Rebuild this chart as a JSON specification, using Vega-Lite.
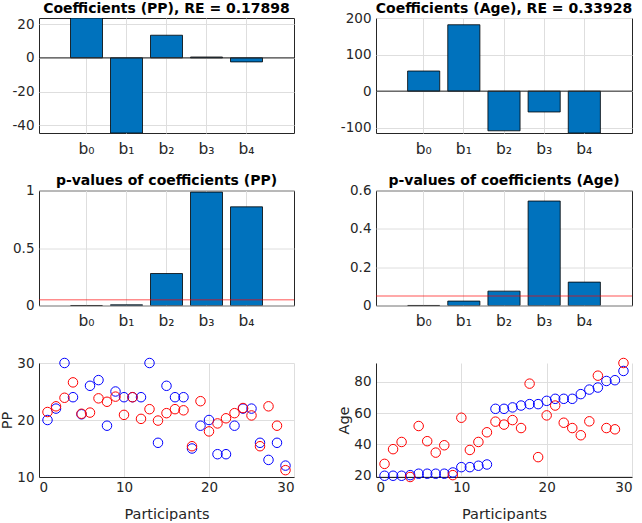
{
  "$schema": "https://vega.github.io/schema/vega-lite/v6.json",
  "padding": {"left": -1, "top": 1, "right": 0, "bottom": 0},
  "columns": 2,
  "bounds": "flush",
  "spacing": {"row": 57.5, "column": 82},
  "concat": [
    {
      "title": {"text": "Coefficients (PP), RE = 0.17898", "offset": 1.5},
      "width": 255, "height": 115,
      "data": {"values": [
        {"coef": "b₀", "value": 23.6},
        {"coef": "b₁", "value": -44.5},
        {"coef": "b₂", "value": 13.4},
        {"coef": "b₃", "value": 0.5},
        {"coef": "b₄", "value": -2.4}
      ]},
      "layer": [
        {
          "mark": {"type": "bar", "color": "#0072BD", "stroke": "#000000", "strokeWidth": 0.8, "clip": true},
          "encoding": {
            "x": {"field": "coef", "type": "nominal", "sort": null,
                  "scale": {"paddingInner": 0.2, "paddingOuter": 0.7875},
                  "axis": {"title": null, "labelAngle": 0, "grid": true, "bandPosition": 0.5, "labelFontSize": 15.5, "labelPadding": 8}},
            "y": {"field": "value", "type": "quantitative",
                  "scale": {"domain": [-44.5, 23.6], "nice": false, "zero": false},
                  "axis": {"title": null, "values": [-40, -20, 0, 20], "tickCount": 10, "grid": true, "labelExpr": "replace(datum.label, '−', '-')"}}
          }
        },
        {
          "data": {"values": [{"base": 0}]},
          "mark": {"type": "rule", "color": "#262626", "strokeWidth": 1},
          "encoding": {"y": {"field": "base", "type": "quantitative"}}
        }
      ]
    },
    {
      "title": {"text": "Coefficients (Age), RE = 0.33928", "offset": -4.5},
      "width": 256, "height": 115,
      "data": {"values": [
        {"coef": "b₀", "value": 55},
        {"coef": "b₁", "value": 181.5},
        {"coef": "b₂", "value": -108.5},
        {"coef": "b₃", "value": -57},
        {"coef": "b₄", "value": -114.5}
      ]},
      "layer": [
        {
          "mark": {"type": "bar", "color": "#0072BD", "stroke": "#000000", "strokeWidth": 0.8, "clip": true},
          "encoding": {
            "x": {"field": "coef", "type": "nominal", "sort": null,
                  "scale": {"paddingInner": 0.2, "paddingOuter": 0.7875},
                  "axis": {"title": null, "labelAngle": 0, "grid": true, "bandPosition": 0.5, "labelFontSize": 15.5, "labelPadding": 8}},
            "y": {"field": "value", "type": "quantitative",
                  "scale": {"domain": [-114.5, 200], "nice": false, "zero": false},
                  "axis": {"title": null, "values": [-100, 0, 100, 200], "tickCount": 10, "grid": true, "labelExpr": "replace(datum.label, '−', '-')"}}
          }
        },
        {
          "data": {"values": [{"base": 0}]},
          "mark": {"type": "rule", "color": "#262626", "strokeWidth": 1},
          "encoding": {"y": {"field": "base", "type": "quantitative"}}
        }
      ]
    },
    {
      "title": {"text": "p-values of coefficients (PP)", "offset": -4.5},
      "width": 255, "height": 115,
      "data": {"values": [
        {"coef": "b₀", "value": 0.0001},
        {"coef": "b₁", "value": 0.006},
        {"coef": "b₂", "value": 0.278},
        {"coef": "b₃", "value": 0.986},
        {"coef": "b₄", "value": 0.858}
      ]},
      "layer": [
        {
          "mark": {"type": "bar", "color": "#0072BD", "stroke": "#000000", "strokeWidth": 0.8, "clip": true},
          "encoding": {
            "x": {"field": "coef", "type": "nominal", "sort": null,
                  "scale": {"paddingInner": 0.2, "paddingOuter": 0.7875},
                  "axis": {"title": null, "labelAngle": 0, "grid": true, "bandPosition": 0.5, "labelFontSize": 15.5, "labelPadding": 8}},
            "y": {"field": "value", "type": "quantitative",
                  "scale": {"domain": [0, 1], "nice": false},
                  "axis": {"title": null, "values": [0, 0.5, 1], "tickCount": 10, "grid": true, "format": "~g"}}
          }
        },
        {
          "data": {"values": [{"threshold": 0.05}]},
          "mark": {"type": "rule", "color": "#ff0000", "opacity": 0.45, "strokeWidth": 1.5},
          "encoding": {"y": {"field": "threshold", "type": "quantitative"}}
        }
      ]
    },
    {
      "title": {"text": "p-values of coefficients (Age)", "offset": -4.5},
      "width": 256, "height": 115,
      "data": {"values": [
        {"coef": "b₀", "value": 0.0002},
        {"coef": "b₁", "value": 0.023},
        {"coef": "b₂", "value": 0.075},
        {"coef": "b₃", "value": 0.545},
        {"coef": "b₄", "value": 0.122}
      ]},
      "layer": [
        {
          "mark": {"type": "bar", "color": "#0072BD", "stroke": "#000000", "strokeWidth": 0.8, "clip": true},
          "encoding": {
            "x": {"field": "coef", "type": "nominal", "sort": null,
                  "scale": {"paddingInner": 0.2, "paddingOuter": 0.7875},
                  "axis": {"title": null, "labelAngle": 0, "grid": true, "bandPosition": 0.5, "labelFontSize": 15.5, "labelPadding": 8}},
            "y": {"field": "value", "type": "quantitative",
                  "scale": {"domain": [0, 0.6], "nice": false},
                  "axis": {"title": null, "values": [0, 0.2, 0.4, 0.6], "tickCount": 10, "grid": true, "format": "~g"}}
          }
        },
        {
          "data": {"values": [{"threshold": 0.05}]},
          "mark": {"type": "rule", "color": "#ff0000", "opacity": 0.45, "strokeWidth": 1.5},
          "encoding": {"y": {"field": "threshold", "type": "quantitative"}}
        }
      ]
    },
    {
      "width": 255, "height": 114,
      "view": {"stroke": null},
      "data": {"values": [
        {"participant": 1, "series": "actual", "value": 20},
        {"participant": 2, "series": "actual", "value": 22},
        {"participant": 3, "series": "actual", "value": 30},
        {"participant": 4, "series": "actual", "value": 24},
        {"participant": 5, "series": "actual", "value": 21},
        {"participant": 6, "series": "actual", "value": 26},
        {"participant": 7, "series": "actual", "value": 27},
        {"participant": 8, "series": "actual", "value": 19},
        {"participant": 9, "series": "actual", "value": 25},
        {"participant": 10, "series": "actual", "value": 24},
        {"participant": 11, "series": "actual", "value": 24},
        {"participant": 12, "series": "actual", "value": 24},
        {"participant": 13, "series": "actual", "value": 30},
        {"participant": 14, "series": "actual", "value": 16},
        {"participant": 15, "series": "actual", "value": 26},
        {"participant": 16, "series": "actual", "value": 24},
        {"participant": 17, "series": "actual", "value": 24},
        {"participant": 18, "series": "actual", "value": 15},
        {"participant": 19, "series": "actual", "value": 19},
        {"participant": 20, "series": "actual", "value": 20},
        {"participant": 21, "series": "actual", "value": 14},
        {"participant": 22, "series": "actual", "value": 14},
        {"participant": 23, "series": "actual", "value": 19},
        {"participant": 24, "series": "actual", "value": 22},
        {"participant": 25, "series": "actual", "value": 22},
        {"participant": 26, "series": "actual", "value": 16},
        {"participant": 27, "series": "actual", "value": 13},
        {"participant": 28, "series": "actual", "value": 16},
        {"participant": 29, "series": "actual", "value": 12},
        {"participant": 1, "series": "predicted", "value": 21.4},
        {"participant": 2, "series": "predicted", "value": 22.4},
        {"participant": 3, "series": "predicted", "value": 23.9},
        {"participant": 4, "series": "predicted", "value": 26.6},
        {"participant": 5, "series": "predicted", "value": 21.1},
        {"participant": 6, "series": "predicted", "value": 21.3},
        {"participant": 7, "series": "predicted", "value": 23.8},
        {"participant": 8, "series": "predicted", "value": 23.2},
        {"participant": 9, "series": "predicted", "value": 24.1},
        {"participant": 10, "series": "predicted", "value": 20.9},
        {"participant": 11, "series": "predicted", "value": 24.0},
        {"participant": 12, "series": "predicted", "value": 20.2},
        {"participant": 13, "series": "predicted", "value": 21.9},
        {"participant": 14, "series": "predicted", "value": 19.9},
        {"participant": 15, "series": "predicted", "value": 21.2},
        {"participant": 16, "series": "predicted", "value": 21.9},
        {"participant": 17, "series": "predicted", "value": 21.7},
        {"participant": 18, "series": "predicted", "value": 15.4},
        {"participant": 19, "series": "predicted", "value": 23.3},
        {"participant": 20, "series": "predicted", "value": 18.0},
        {"participant": 21, "series": "predicted", "value": 19.4},
        {"participant": 22, "series": "predicted", "value": 20.3},
        {"participant": 23, "series": "predicted", "value": 21.2},
        {"participant": 24, "series": "predicted", "value": 22.1},
        {"participant": 25, "series": "predicted", "value": 20.8},
        {"participant": 26, "series": "predicted", "value": 15.4},
        {"participant": 27, "series": "predicted", "value": 22.4},
        {"participant": 28, "series": "predicted", "value": 19.0},
        {"participant": 29, "series": "predicted", "value": 11.2}
      ]},
      "mark": {"type": "point", "shape": "circle", "filled": false, "size": 90, "strokeWidth": 1, "opacity": 1},
      "encoding": {
        "x": {"field": "participant", "type": "quantitative",
              "scale": {"domain": [0, 30], "nice": false},
              "axis": {"title": "Participants", "values": [0, 10, 20, 30], "tickCount": 10, "grid": true, "domain": true, "labelPadding": 3, "titlePadding": 14}},
        "y": {"field": "value", "type": "quantitative",
              "scale": {"domain": [10, 30], "nice": false, "zero": false},
              "axis": {"title": "PP", "values": [10, 20, 30], "tickCount": 10, "grid": true, "domain": true, "titlePadding": 2}},
        "color": {"field": "series", "type": "nominal",
                  "scale": {"domain": ["actual", "predicted"], "range": ["#0000ff", "#ff0000"]},
                  "legend": null}
      }
    },
    {
      "width": 256, "height": 114,
      "view": {"stroke": null},
      "data": {"values": [
        {"participant": 1, "series": "actual", "value": 20},
        {"participant": 2, "series": "actual", "value": 20},
        {"participant": 3, "series": "actual", "value": 20},
        {"participant": 4, "series": "actual", "value": 20.4},
        {"participant": 5, "series": "actual", "value": 21.3},
        {"participant": 6, "series": "actual", "value": 21.3},
        {"participant": 7, "series": "actual", "value": 21.3},
        {"participant": 8, "series": "actual", "value": 21.3},
        {"participant": 9, "series": "actual", "value": 22.1},
        {"participant": 10, "series": "actual", "value": 25.5},
        {"participant": 11, "series": "actual", "value": 25.5},
        {"participant": 12, "series": "actual", "value": 26.4},
        {"participant": 13, "series": "actual", "value": 27.2},
        {"participant": 14, "series": "actual", "value": 62.8},
        {"participant": 15, "series": "actual", "value": 62.8},
        {"participant": 16, "series": "actual", "value": 63.7},
        {"participant": 17, "series": "actual", "value": 64.9},
        {"participant": 18, "series": "actual", "value": 65.8},
        {"participant": 19, "series": "actual", "value": 65.8},
        {"participant": 20, "series": "actual", "value": 67.9},
        {"participant": 21, "series": "actual", "value": 69.2},
        {"participant": 22, "series": "actual", "value": 69.2},
        {"participant": 23, "series": "actual", "value": 69.2},
        {"participant": 24, "series": "actual", "value": 72.2},
        {"participant": 25, "series": "actual", "value": 75.1},
        {"participant": 26, "series": "actual", "value": 76.4},
        {"participant": 27, "series": "actual", "value": 80.6},
        {"participant": 28, "series": "actual", "value": 81.1},
        {"participant": 29, "series": "actual", "value": 87},
        {"participant": 1, "series": "predicted", "value": 27.6},
        {"participant": 2, "series": "predicted", "value": 37.0},
        {"participant": 3, "series": "predicted", "value": 41.6},
        {"participant": 4, "series": "predicted", "value": 19.2},
        {"participant": 5, "series": "predicted", "value": 51.8},
        {"participant": 6, "series": "predicted", "value": 42.1},
        {"participant": 7, "series": "predicted", "value": 34.8},
        {"participant": 8, "series": "predicted", "value": 39.5},
        {"participant": 9, "series": "predicted", "value": 20.4},
        {"participant": 10, "series": "predicted", "value": 57.1},
        {"participant": 11, "series": "predicted", "value": 36.5},
        {"participant": 12, "series": "predicted", "value": 41.6},
        {"participant": 13, "series": "predicted", "value": 47.8},
        {"participant": 14, "series": "predicted", "value": 54.6},
        {"participant": 15, "series": "predicted", "value": 52.7},
        {"participant": 16, "series": "predicted", "value": 55.6},
        {"participant": 17, "series": "predicted", "value": 50.5},
        {"participant": 18, "series": "predicted", "value": 78.9},
        {"participant": 19, "series": "predicted", "value": 31.9},
        {"participant": 20, "series": "predicted", "value": 58.6},
        {"participant": 21, "series": "predicted", "value": 64.9},
        {"participant": 22, "series": "predicted", "value": 53.9},
        {"participant": 23, "series": "predicted", "value": 50.5},
        {"participant": 24, "series": "predicted", "value": 45.9},
        {"participant": 25, "series": "predicted", "value": 54.8},
        {"participant": 26, "series": "predicted", "value": 84.0},
        {"participant": 27, "series": "predicted", "value": 50.5},
        {"participant": 28, "series": "predicted", "value": 49.7},
        {"participant": 29, "series": "predicted", "value": 92.1}
      ]},
      "mark": {"type": "point", "shape": "circle", "filled": false, "size": 90, "strokeWidth": 1, "opacity": 1},
      "encoding": {
        "x": {"field": "participant", "type": "quantitative",
              "scale": {"domain": [0, 30], "nice": false},
              "axis": {"title": "Participants", "values": [0, 10, 20, 30], "tickCount": 10, "grid": true, "domain": true, "labelPadding": 3, "titlePadding": 14}},
        "y": {"field": "value", "type": "quantitative",
              "scale": {"domain": [19.2, 92.1], "nice": false, "zero": false},
              "axis": {"title": "Age", "values": [20, 40, 60, 80], "tickCount": 10, "grid": true, "domain": true, "titlePadding": 2}},
        "color": {"field": "series", "type": "nominal",
                  "scale": {"domain": ["actual", "predicted"], "range": ["#0000ff", "#ff0000"]},
                  "legend": null}
      }
    }
  ],
  "config": {
    "font": "DejaVu Sans",
    "background": "#ffffff",
    "view": {"stroke": "#262626", "strokeWidth": 1},
    "axis": {
      "labelFont": "DejaVu Sans", "labelFontSize": 13.5, "labelColor": "#262626",
      "titleFont": "DejaVu Sans", "titleFontSize": 14.5, "titleFontWeight": "normal", "titleColor": "#262626",
      "gridColor": "#dedede", "gridWidth": 1,
      "domain": false, "domainColor": "#262626", "domainWidth": 1,
      "ticks": false, "labelPadding": 5, "labelOverlap": false
    },
    "title": {"font": "DejaVu Sans", "fontSize": 14, "fontWeight": "bold", "color": "#000000", "frame": "group"}
  }
}
